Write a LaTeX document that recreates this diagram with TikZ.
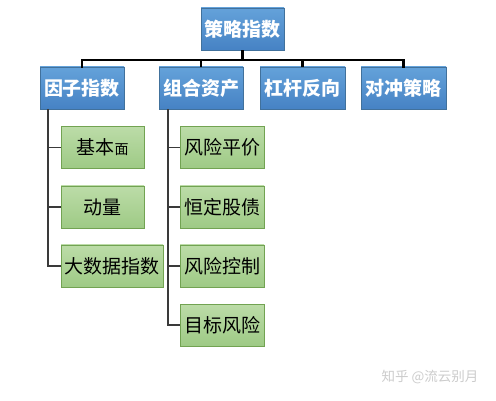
\documentclass[tikz,border=0pt]{standalone}
\usepackage{fontspec}
\setmainfont{Noto Sans CJK SC}
\usetikzlibrary{positioning}
\definecolor{bluetop}{HTML}{64A2DA}
\definecolor{bluebot}{HTML}{4682C4}
\definecolor{blueedge}{HTML}{41719C}
\definecolor{greentop}{HTML}{BCDCA8}
\definecolor{greenbot}{HTML}{9ECA85}
\definecolor{greenedge}{HTML}{72A352}
\definecolor{linkgray}{HTML}{3A3A3A}
\tikzset{
  bluebox/.style={rectangle, draw=blueedge, line width=0.8pt, top color=bluetop, bottom color=bluebot,
    text=white, font=\fontsize{19}{21}\selectfont\bfseries, inner sep=0pt, minimum height=42pt},
  greenbox/.style={rectangle, draw=greenedge, line width=0.8pt, top color=greentop, bottom color=greenbot,
    text=black, font=\fontsize{19}{21}\selectfont, inner sep=0pt, minimum height=42pt, minimum width=83pt},
  trunk/.style={draw=black, line width=2.6pt},
  branch/.style={draw=linkgray, line width=1.3pt}
}
\begin{document}
\begin{tikzpicture}[x=1pt,y=-1pt]
\useasboundingbox[fill=white] (0,0) rectangle (496,401);
% level 0
\node[bluebox, minimum width=83pt] (root) at (242.5,29) {策略指数};
% level 1
\node[bluebox, minimum width=84pt] (f) at (82,88) {因子指数};
\node[bluebox, minimum width=84pt] (p) at (201,88) {组合资产};
\node[bluebox, minimum width=85pt] (l) at (302.5,88) {杠杆反向};
\node[bluebox, minimum width=85pt] (h) at (403.5,88) {对冲策略};
% trunk
\coordinate (bus) at (242.5,60);
\draw[trunk] (root.south) -- (bus);
\draw[trunk, line cap=rect] (f.north) |- (h.north |- bus) -- (h.north);
\draw[trunk] (p.north) -- (p.north |- bus);
\draw[trunk] (l.north) -- (l.north |- bus);
% factor children
\node[greenbox] (f1) at (102.5,147.5) {基本{\fontsize{14}{16}\selectfont 面}};
\node[greenbox] (f2) at (102.5,207) {动量};
\node[greenbox, minimum width=102pt] (f3) at (112,266) {大数据指数};
% portfolio children
\node[greenbox, minimum width=84pt] (p1) at (222,147.5) {风险平价};
\node[greenbox, minimum width=84pt] (p2) at (222,207) {恒定股债};
\node[greenbox, minimum width=84pt] (p3) at (222,266) {风险控制};
\node[greenbox, minimum width=84pt] (p4) at (222,325) {目标风险};
% branches
\coordinate (fx) at (48,0);
\coordinate (px) at (168,0);
\draw[branch] (fx |- f.south) |- (f3.west);
\draw[branch] (fx |- f1.west) -- (f1.west);
\draw[branch] (fx |- f2.west) -- (f2.west);
\draw[branch] (px |- p.south) |- (p4.west);
\draw[branch] (px |- p1.west) -- (p1.west);
\draw[branch] (px |- p2.west) -- (p2.west);
\draw[branch] (px |- p3.west) -- (p3.west);
% watermark
\node[text=black!20, font=\fontsize{13.5}{15}\selectfont, anchor=east] (wm) at (482,377) {知乎 @流云别月};
\end{tikzpicture}
\end{document}
